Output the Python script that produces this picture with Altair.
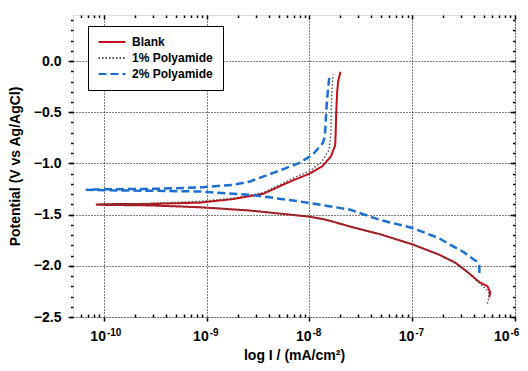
import json
import altair as alt
import pandas as pd

# ---------------- data ----------------
series_names = ["Blank", "1% Polyamide", "2% Polyamide"]
series_colors = ["#c4101a", "#4a4a4a", "#1a6fd0"]
series_dashes = [[1, 0], [1.5, 2], [8, 4]]

# current density (mA/cm2) and potential (V vs Ag/AgCl), in scan order
blank_i = [5.6e-7, 5.75e-7, 5.4e-7, 4.5e-7, 3.55e-7, 2.63e-7, 1.82e-7, 1.0e-7, 4.8e-8,
           2.45e-8, 1.45e-8, 1.0e-8, 2.63e-9, 8.5e-10, 2.8e-10, 1.0e-10, 8.5e-11,
           1.0e-10, 2.8e-10, 8.5e-10, 1.8e-9, 3.55e-9, 5.5e-9, 7.4e-9, 1.0e-8, 1.35e-8,
           1.62e-8, 1.78e-8, 1.8e-8, 1.82e-8, 1.86e-8, 1.9e-8, 2.0e-8]
blank_e = [-2.31, -2.26, -2.20, -2.16, -2.07, -1.97, -1.89, -1.79, -1.69,
           -1.615, -1.55, -1.52, -1.46, -1.428, -1.41, -1.405, -1.402,
           -1.398, -1.395, -1.383, -1.348, -1.296, -1.209, -1.153, -1.10, -1.023,
           -0.93, -0.82, -0.70, -0.50, -0.30, -0.20, -0.105]

pa1_i = [5.4e-7, 5.6e-7, 5.5e-7, 4.4e-7, 3.5e-7, 2.6e-7, 1.8e-7, 1.0e-7, 4.8e-8,
         2.45e-8, 1.45e-8, 1.0e-8, 2.63e-9, 8.5e-10, 2.8e-10, 1.0e-10, 8.5e-11,
         1.0e-10, 2.8e-10, 8.5e-10, 1.8e-9, 3.55e-9, 5.5e-9, 7.4e-9, 1.0e-8, 1.3e-8,
         1.55e-8, 1.62e-8, 1.63e-8, 1.65e-8, 1.7e-8]
pa1_e = [-2.37, -2.30, -2.25, -2.16, -2.07, -1.97, -1.89, -1.79, -1.69,
         -1.612, -1.548, -1.518, -1.458, -1.425, -1.408, -1.403, -1.40,
         -1.397, -1.39, -1.37, -1.34, -1.285, -1.195, -1.13, -1.075, -0.99,
         -0.87, -0.70, -0.50, -0.30, -0.13]

pa2_i = [4.5e-7, 4.5e-7, 4.2e-7, 3.1e-7, 2.3e-7, 1.82e-7, 1.0e-7, 4.8e-8, 2.45e-8,
         7.9e-9, 2.63e-9, 8.5e-10, 3.2e-10, 1.0e-10, 6.8e-11,
         1.0e-10, 3.2e-10, 8.5e-10, 1.8e-9, 2.63e-9, 4.8e-9, 7.9e-9, 1.07e-8, 1.35e-8,
         1.41e-8, 1.48e-8, 1.57e-8]
pa2_e = [-2.07, -2.00, -1.956, -1.86, -1.79, -1.73, -1.63, -1.55, -1.45,
         -1.37, -1.306, -1.274, -1.267, -1.262, -1.257,
         -1.253, -1.248, -1.235, -1.209, -1.176, -1.08, -0.997, -0.916, -0.80,
         -0.74, -0.38, -0.127]

# axis ticks / labels
decades = [1e-10, 1e-9, 1e-8, 1e-7, 1e-6]
decade_base = "10"
decade_exponents = ["-10", "-9", "-8", "-7", "-6"]
y_major = [-2.5, -2.0, -1.5, -1.0, -0.5, 0.0]
x_domain = [5e-11, 1e-6]
y_domain = [-2.5, 0.45]

x_minor = [m * d for d in [1e-11, 1e-10, 1e-9, 1e-8, 1e-7]
           for m in range(2, 10) if x_domain[0] <= m * d <= x_domain[1]]
y_minor = [round(-2.5 + 0.1 * k, 1) for k in range(30)]

rows = []
for name, ii, ee in [("Blank", blank_i, blank_e),
                     ("1% Polyamide", pa1_i, pa1_e),
                     ("2% Polyamide", pa2_i, pa2_e)]:
    for k, (i, e) in enumerate(zip(ii, ee)):
        rows.append({"series": name, "I": i, "E": e, "idx": k})
df = pd.DataFrame(rows)

W, H = 442, 302
FONT = "Liberation Sans"

xscale = alt.Scale(type="log", domain=x_domain, nice=False)
yscale = alt.Scale(domain=y_domain, nice=False, zero=False)

exp_expr = json.dumps(decade_exponents) + "[round(log(datum.value)/LN10)+10]"
# keep the last decade label (at the right frame) inside the page
last_test = "datum.value > 5e-7"

legend = alt.Legend(title=None, orient="none", legendX=15, legendY=11,
                    fillColor="white", strokeColor="black",
                    padding=10, labelFont=FONT, labelFontSize=12, labelFontWeight="bold",
                    labelColor="black", symbolType="M-3,0H3", symbolSize=81,
                    symbolStrokeWidth=2, symbolOffset=8, labelOffset=14, rowPadding=4)

stroke_w = (alt.when(alt.datum.series == "2% Polyamide").then(alt.value(2.5))
            .when(alt.datum.series == "1% Polyamide").then(alt.value(1.3))
            .otherwise(alt.value(2)))

lines = alt.Chart(df).mark_line(strokeJoin="round").encode(
    x=alt.X("I:Q", scale=xscale,
            axis=alt.Axis(orient="bottom", values=decades, labelExpr=f"'{decade_base}'",
                          title="log I / (mA/cm²)", grid=True, gridDash=[1, 2],
                          gridColor="black", gridWidth=1, gridOpacity=1,
                          tickSize=4, tickWidth=1.5, tickColor="black", domain=False,
                          labelFont=FONT, labelFontSize=14, labelFontWeight="bold",
                          labelColor="black", labelPadding=8.5, labelAlign="right",
                          labelOffset={"condition": {"test": last_test, "value": -6},
                                       "value": 1.5},
                          labelFlush=False, labelOverlap=False,
                          labelBaseline="top",
                          titleFont=FONT, titleFontSize=14, titleFontWeight="bold",
                          titleColor="black", titlePadding=5)),
    y=alt.Y("E:Q", scale=yscale,
            axis=alt.Axis(orient="left", values=y_major, format=".1f",
                          title="Potential (V vs Ag/AgCl)", grid=True, gridDash=[1, 2],
                          gridColor="black", gridWidth=1, gridOpacity=1,
                          tickSize=5, tickWidth=1.5, tickColor="black", domain=False,
                          labelFont=FONT, labelFontSize=14, labelFontWeight="bold",
                          labelColor="black", labelPadding=7, labelFlush=False,
                          titleFont=FONT, titleFontSize=14, titleFontWeight="bold",
                          titleColor="black", titlePadding=11)),
    color=alt.Color("series:N", scale=alt.Scale(domain=series_names, range=series_colors),
                    legend=legend),
    strokeDash=alt.StrokeDash("series:N",
                              scale=alt.Scale(domain=series_names, range=series_dashes),
                              legend=legend),
    strokeWidth=stroke_w,
    order="idx:Q",
)


def tick_layer(xvals, xorient, xoffset, xsize, yvals, yorient, yoffset, ysize):
    return alt.Chart(df).mark_point(opacity=0).encode(
        x=alt.X("I:Q", scale=xscale,
                axis=alt.Axis(orient=xorient, offset=xoffset, values=xvals, labels=False,
                              title=None, grid=False, domain=False, tickSize=xsize,
                              tickWidth=1.5, tickColor="black")),
        y=alt.Y("E:Q", scale=yscale,
                axis=alt.Axis(orient=yorient, offset=yoffset, values=yvals, labels=False,
                              title=None, grid=False, domain=False, tickSize=ysize,
                              tickWidth=1.5, tickColor="black")),
    )


# bottom minor (inward) + left minor (outward)
l1 = tick_layer(x_minor, "top", -H, 3, y_minor, "left", 0, 2.5)
# top minor (inward) + right minor (inward)
l2 = tick_layer(x_minor, "bottom", -H, 2.5, y_minor, "left", -W, 2.5)
# top major (inward) + right major (inward)
l3 = tick_layer(decades, "bottom", -H, 4, y_major, "left", -W, 5)

# exponent labels of the decade ticks (superscript)
l4 = alt.Chart(df).mark_point(opacity=0).encode(
    x=alt.X("I:Q", scale=xscale,
            axis=alt.Axis(orient="bottom", values=decades, labelExpr=exp_expr,
                          ticks=False, domain=False, grid=False, title=None,
                          labelFont=FONT, labelFontSize=10, labelFontWeight="bold",
                          labelColor="black", labelAlign="left",
                          labelOffset={"condition": {"test": last_test, "value": -5},
                                       "value": 2.5},
                          labelPadding=10, labelBaseline="top",
                          labelFlush=False, labelOverlap=False)),
    y=alt.Y("E:Q", scale=yscale, axis=None),
)

chart = alt.layer(lines, l1, l2, l3, l4).resolve_axis(
    x="independent", y="independent"
).properties(
    width=W, height=H,
    autosize=alt.AutoSizeParams(type="none"),
    padding={"left": 65, "top": 7, "right": 5, "bottom": 46},
).configure_view(stroke="black", strokeWidth=2).configure_legend(
    strokeWidth=1.5
).configure(background="white")

chart.save("out.html", embed_options={"renderer": "svg", "actions": False})
